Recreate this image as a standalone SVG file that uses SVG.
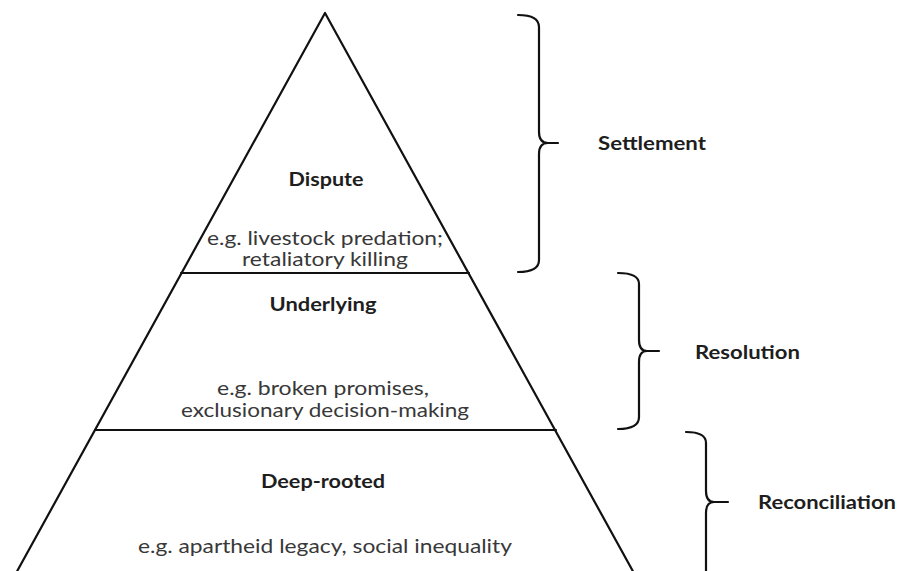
<svg xmlns="http://www.w3.org/2000/svg" width="900" height="571" viewBox="0 0 900 571">
  <style>
    .edge { fill: none; stroke: #111; stroke-width: 2.2; stroke-linecap: round; stroke-linejoin: round; }
    .brace { fill: none; stroke: #111; stroke-width: 2.2; stroke-linecap: round; }
    .title { font-family: Lato, "Open Sans", sans-serif; font-weight: bold; font-size: 19px; fill: #1e1e1e; text-anchor: middle; }
    .note { font-family: Lato, "Open Sans", sans-serif; font-size: 19px; fill: #383838; text-anchor: middle; }
    .side { font-family: Lato, "Open Sans", sans-serif; font-weight: bold; font-size: 19px; fill: #1e1e1e; }
  </style>
  <rect width="900" height="571" fill="#fff"/>

  <!-- pyramid outline and tier dividers -->
  <g id="connectors">
    <path class="edge" d="M15,575 L325,13 L635,575"/>
    <line class="edge" x1="181" y1="273" x2="469" y2="273"/>
    <line class="edge" x1="95" y1="430" x2="556" y2="430"/>
  </g>

  <g id="tier-dispute">
    <text class="title" x="326" y="186" textLength="75" lengthAdjust="spacingAndGlyphs">Dispute</text>
    <text class="note" x="325" y="245" textLength="236" lengthAdjust="spacingAndGlyphs">e.g. livestock predation;</text>
    <text class="note" x="325" y="266" textLength="166" lengthAdjust="spacingAndGlyphs">retaliatory killing</text>
  </g>

  <g id="tier-underlying">
    <text class="title" x="323" y="311" textLength="107" lengthAdjust="spacingAndGlyphs">Underlying</text>
    <text class="note" x="323" y="395" textLength="212" lengthAdjust="spacingAndGlyphs">e.g. broken promises,</text>
    <text class="note" x="325" y="417" textLength="288" lengthAdjust="spacingAndGlyphs">exclusionary decision-making</text>
  </g>

  <g id="tier-deep-rooted">
    <text class="title" x="323" y="488" textLength="124" lengthAdjust="spacingAndGlyphs">Deep-rooted</text>
    <text class="note" x="325" y="553" textLength="374" lengthAdjust="spacingAndGlyphs">e.g. apartheid legacy, social inequality</text>
  </g>

  <g id="brace-settlement">
    <path class="brace" d="M518,15 Q539,15 539,27 L539,132 Q539,143 548,143 L558,143 M548,143 Q539,143 539,154 L539,260 Q539,272 518,272"/>
    <text class="side" x="598" y="150" textLength="108" lengthAdjust="spacingAndGlyphs">Settlement</text>
  </g>

  <g id="brace-resolution">
    <path class="brace" d="M618,273 Q639,273 639,284 L639,340 Q639,351 647,351 L659,351 M647,351 Q639,351 639,362 L639,417 Q639,429 618,429"/>
    <text class="side" x="695" y="359" textLength="105" lengthAdjust="spacingAndGlyphs">Resolution</text>
  </g>

  <g id="brace-reconciliation">
    <path class="brace" d="M686,432 Q706,432 706,443 L706,491 Q706,502 714,502 L728,502 M714,502 Q706,502 706,513 L706,575"/>
    <text class="side" x="758" y="509" textLength="138" lengthAdjust="spacingAndGlyphs">Reconciliation</text>
  </g>
</svg>
